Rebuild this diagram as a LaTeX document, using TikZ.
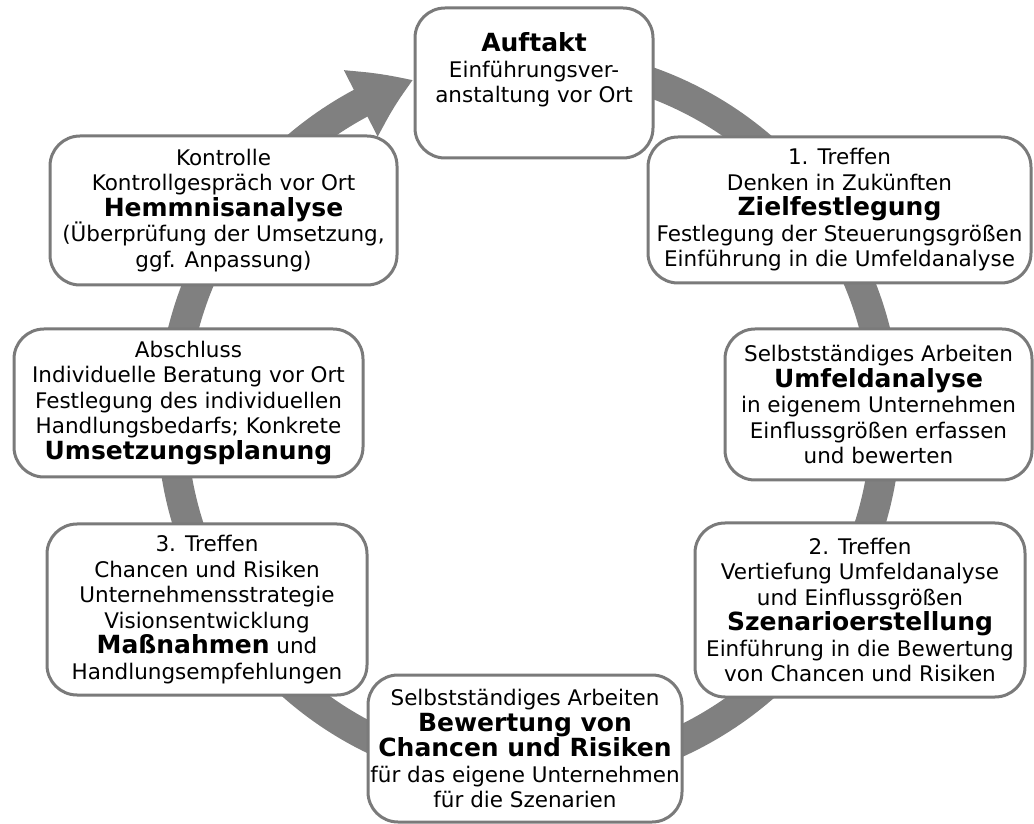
\documentclass[tikz,border=0pt]{standalone}
\usepackage{fontspec}
\setmainfont{DejaVu Sans}
\usetikzlibrary{arrows.meta,bending}
\tikzset{
  phasebox/.style={draw=black!52, line width=3pt, fill=white, rounded corners=30pt, align=center, inner sep=2pt, font=\fontsize{21.5}{25.5}\selectfont},
  ring/.style={draw=black!50, line width=30pt, -{Triangle[bend,length=58pt,width=70pt]}},
}
\newcommand{\kw}[1]{{\fontsize{25}{28}\selectfont\bfseries #1}}

\begin{document}
\begin{tikzpicture}[x=1pt,y=1pt]
  \useasboundingbox (0,0) rectangle (1034,823);
  \coordinate (c) at (529,405);
  % cycle ring with arrow into the kick-off box
  \draw[ring] (c) ++(78:357) arc[start angle=78, end angle=-251.1, radius=357];

  \node[phasebox, minimum width=238pt, minimum height=150pt, text depth=30pt] (auftakt) at (534,740) {\kw{Auftakt}\\Einführungsver-\\anstaltung vor Ort};
  \node[phasebox, minimum width=383pt, minimum height=146pt] (ziel) at (839.5,613) {1. Treffen\\Denken in Zukünften\\\kw{Zielfestlegung}\\Festlegung der Steuerungsgrößen\\Einführung in die Umfeldanalyse};
  \node[phasebox, minimum width=307pt, minimum height=151pt] (umfeld) at (878.5,418.5) {Selbstständiges Arbeiten\\\kw{Umfeldanalyse}\\in eigenem Unternehmen\\Einflussgrößen erfassen\\und bewerten};
  \node[phasebox, minimum width=330pt, minimum height=174pt] (szenario) at (860,213) {2. Treffen\\Vertiefung Umfeldanalyse\\und Einflussgrößen\\\kw{Szenarioerstellung}\\Einführung in die Bewertung\\von Chancen und Risiken};
  \node[phasebox, minimum width=314pt, minimum height=147pt] (bewertung) at (525,74.5) {Selbstständiges Arbeiten\\\kw{Bewertung von}\\\kw{Chancen und Risiken}\\für das eigene Unternehmen\\für die Szenarien};
  \node[phasebox, minimum width=320pt, minimum height=171pt] (massnahmen) at (207,213.5) {3. Treffen\\Chancen und Risiken\\Unternehmensstrategie\\Visionsentwicklung\\\kw{Maßnahmen} und\\Handlungsempfehlungen};
  \node[phasebox, minimum width=349pt, minimum height=148pt] (umsetzung) at (188.5,420) {Abschluss\\Individuelle Beratung vor Ort\\Festlegung des individuellen\\Handlungsbedarfs; Konkrete\\\kw{Umsetzungsplanung}};
  \node[phasebox, minimum width=347pt, minimum height=149pt] (hemmnis) at (223.5,612.5) {Kontrolle\\Kontrollgespräch vor Ort\\\kw{Hemmnisanalyse}\\(Überprüfung der Umsetzung,\\ggf. Anpassung)};
\end{tikzpicture}
\end{document}
